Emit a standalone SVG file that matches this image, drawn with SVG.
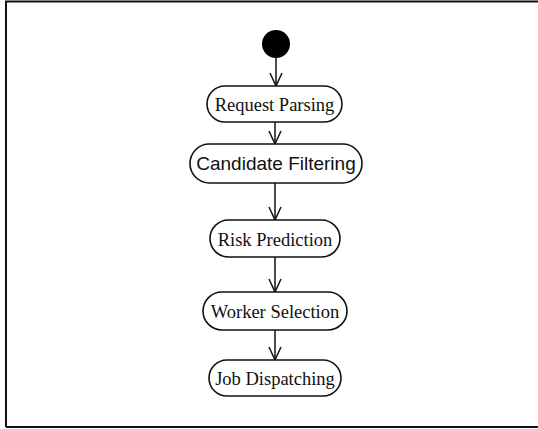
<svg xmlns="http://www.w3.org/2000/svg" width="538" height="429" viewBox="0 0 538 429">
<style>
.frame{fill:none;stroke:#111;stroke-width:2}
.node rect{fill:#fff;stroke:#111;stroke-width:1.6}
.node text{font-family:"Liberation Serif","Times New Roman",serif;font-size:18.5px;fill:#111;text-anchor:middle}
.node text.sans{font-family:"Liberation Sans",Arial,sans-serif;font-size:19px}
.edges line{stroke:#111;stroke-width:1.5;marker-end:url(#open)}
</style>
<defs>
<marker id="open" markerWidth="16" markerHeight="16" refX="14" refY="7" orient="auto" markerUnits="userSpaceOnUse" viewBox="0 0 16 14">
<path d="M1,1 L14,7 L1,13" fill="none" stroke="#111" stroke-width="1.5"/>
</marker>
</defs>
<rect width="538" height="429" fill="#fff"/>
<path class="frame" d="M6,427 L6,1.5 L538,1.5 M6,427 L538,427"/>
<g id="start"><circle cx="276" cy="44" r="14" fill="#000"/></g>
<g class="edges" id="connectors">
<line x1="276" y1="58" x2="276" y2="86"/>
<line x1="275" y1="122" x2="275" y2="144"/>
<line x1="275" y1="183" x2="275" y2="220"/>
<line x1="275" y1="257" x2="275" y2="292"/>
<line x1="275" y1="330" x2="275" y2="360"/>
</g>
<g class="node" id="request-parsing"><rect x="207" y="86" width="135" height="36" rx="18"/><text x="274.5" y="110.5">Request Parsing</text></g>
<g class="node" id="candidate-filtering"><rect x="190" y="144" width="172" height="39" rx="19.5"/><text class="sans" x="276" y="170">Candidate Filtering</text></g>
<g class="node" id="risk-prediction"><rect x="210" y="220" width="130" height="37" rx="18.5"/><text x="275" y="245.5">Risk Prediction</text></g>
<g class="node" id="worker-selection"><rect x="203" y="292" width="144" height="38" rx="19"/><text x="275" y="317.5">Worker Selection</text></g>
<g class="node" id="job-dispatching"><rect x="209" y="360" width="132" height="36" rx="18"/><text x="275" y="384.5">Job Dispatching</text></g>
</svg>
